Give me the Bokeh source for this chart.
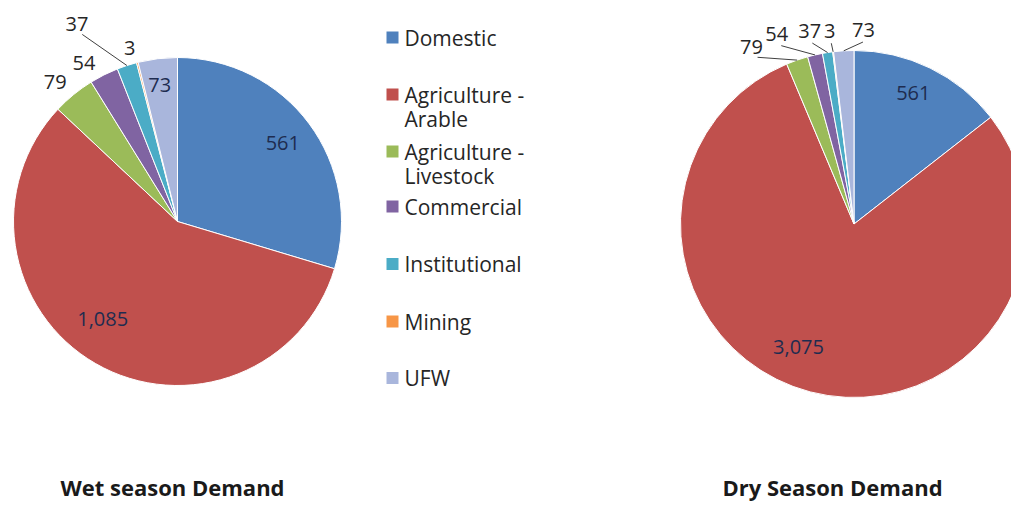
import numpy as np
from bokeh.plotting import figure
from bokeh.models import Range1d, ColumnDataSource
from bokeh.core.properties import value
from bokeh.embed import file_html
from bokeh.resources import INLINE

# ---------------- data ----------------
categories = ["Domestic", "Agriculture - Arable", "Agriculture - Livestock",
              "Commercial", "Institutional", "Mining", "UFW"]
wet_values = [561, 1085, 79, 54, 37, 3, 73]
dry_values = [561, 3075, 79, 54, 37, 3, 73]
titles = ["Wet season Demand", "Dry Season Demand"]

# ---------------- style / layout ----------------
colors = ["#4F81BD", "#C0504D", "#9BBB59", "#8064A2", "#4BACC6", "#F79646", "#A9B6DC"]
FONT = "Open Sans"
W, H = 1011, 501

# label placement: radius factor and angle nudge (deg) per slice
wet_fac = [0.80, 0.75, 1.13, 1.12, 1.35, 1.10, 0.84]
wet_off = [0.0, 7.5, -2.0, -4.0, -9.0, -1.2, -0.5]
wet_lead = [False, False, False, False, True, False, False]
dry_fac = [0.83, 0.78, 1.18, 1.18, 1.14, 1.12, 1.12]
dry_off = [-1.7, 9.6, -10.9, -9.2, -4.2, -0.25, 6.2]
dry_lead = [False, False, True, True, True, True, True]

# figure pixel (px, py) from its top-left corner -> data (px, 509 - py)
p = figure(width=W, height=H, x_range=Range1d(0, W), y_range=Range1d(509 - H, 509),
           output_backend="svg", toolbar_location=None, min_border=0,
           x_axis_location=None, y_axis_location=None)
p.grid.visible = False
p.outline_line_color = None
p.background_fill_color = "white"
p.border_fill_color = "white"


def Y(py):
    return 509 - py


def pie(values, cx, cy, R, fac, off, lead):
    v = np.array(values, dtype=float)
    frac = v / v.sum() * 2 * np.pi
    cend = np.cumsum(frac)
    cstart = cend - frac
    src = ColumnDataSource(dict(start=np.pi / 2 - cstart, end=np.pi / 2 - cend, color=colors))
    p.wedge(x=cx, y=cy, radius=R, radius_units="screen", start_angle="start", end_angle="end",
            direction="clock", fill_color="color", line_color="white", line_width=1, source=src)
    mid = (cstart + cend) / 2
    la = mid + np.radians(off)
    f = np.array(fac)
    lx = cx + f * R * np.sin(la)
    ly = cy + f * R * np.cos(la)
    texts = [f"{int(x):,}" for x in values]
    tcol = ["#1E2C50" if ff < 1 else "#262626" for ff in fac]
    p.text(x=lx, y=ly, text=texts, text_color=tcol, text_font=value(FONT), text_font_size="20px",
           text_align="center", text_baseline="middle")
    idx = [i for i, b in enumerate(lead) if b]
    x0 = [cx + R * np.sin(mid[i]) for i in idx]
    y0 = [cy + R * np.cos(mid[i]) for i in idx]
    x1 = [cx + (fac[i] - 0.07) * R * np.sin(la[i]) for i in idx]
    y1 = [cy + (fac[i] - 0.07) * R * np.cos(la[i]) for i in idx]
    p.segment(x0=x0, y0=y0, x1=x1, y1=y1, line_color="#404040", line_width=1)


pie(wet_values, 177, Y(221), 164, wet_fac, wet_off, wet_lead)
pie(dry_values, 853.5, Y(223.5), 173.5, dry_fac, dry_off, dry_lead)

# titles
p.text(x=[172, 832], y=[Y(486), Y(486)], text=titles, text_font=value(FONT), text_font_size="22px",
       text_font_style="bold", text_color="#1a1a1a", text_align="center", text_baseline="middle")

# legend (manual)
leg_y = [37, 94, 151, 206, 263.5, 321, 377.5]
sq_x, sq_y, txt_x, txt_y, txt = [], [], [], [], []
for c, yy in zip(categories, leg_y):
    parts = c.split(" - ")
    lines = [parts[0] + " -", parts[1]] if len(parts) == 2 else [c]
    sq_x.append(392)
    sq_y.append(Y(yy))
    for k, ln in enumerate(lines):
        txt_x.append(404)
        txt_y.append(Y(yy + 24 * k))
        txt.append(ln)
p.rect(x=sq_x, y=sq_y, width=12, height=12, width_units="screen", height_units="screen",
       fill_color=colors, line_color=None)
p.text(x=txt_x, y=txt_y, text=txt, text_font=value(FONT), text_font_size="21px",
       text_color="#262626", text_align="left", text_baseline="middle")

open("out.html", "w").write(file_html(p, INLINE))
